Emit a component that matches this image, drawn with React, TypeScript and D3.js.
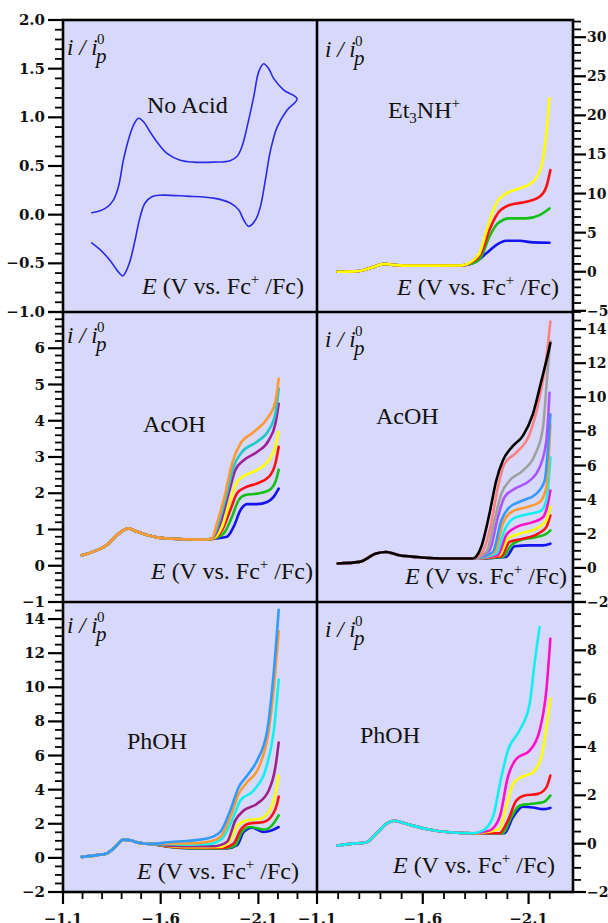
import React from 'react';
import * as d3 from 'd3';

type Pt = [number, number];

// ---------- tick labels ----------
const xMajorTicks = [-1.1, -1.6, -2.1];

// ---------- Panel: No Acid (cyclic voltammogram) ----------
const noAcidCV: Pt[] = [
  [-1.247, 0.02], [-1.29, 0.04], [-1.324, 0.075], [-1.358, 0.15], [-1.384, 0.29], [-1.409, 0.56],
  [-1.435, 0.77], [-1.461, 0.92], [-1.486, 0.99], [-1.512, 0.955], [-1.546, 0.85], [-1.58, 0.75],
  [-1.632, 0.63], [-1.7, 0.56], [-1.768, 0.54], [-1.871, 0.54], [-1.956, 0.555], [-1.991, 0.6],
  [-2.016, 0.7], [-2.042, 0.9], [-2.076, 1.21], [-2.102, 1.47], [-2.127, 1.55], [-2.153, 1.5],
  [-2.178, 1.4], [-2.23, 1.28], [-2.298, 1.19],
  [-2.247, 1.075], [-2.196, 0.9], [-2.162, 0.66], [-2.136, 0.36], [-2.11, 0.08], [-2.085, -0.055],
  [-2.05, -0.12], [-2.025, -0.055], [-1.999, 0.05], [-1.956, 0.12], [-1.871, 0.17], [-1.734, 0.19],
  [-1.597, 0.2], [-1.555, 0.185], [-1.52, 0.12], [-1.495, -0.02], [-1.469, -0.26], [-1.444, -0.47],
  [-1.418, -0.6], [-1.406, -0.63], [-1.384, -0.59], [-1.341, -0.47], [-1.29, -0.36], [-1.247, -0.29],
];

// ---------- Panel: Et3NH+ ----------
const etBase: Pt[] = [
  [-1.197, 0], [-1.25, 0.02], [-1.3, 0.1], [-1.36, 0.55], [-1.418, 1.0], [-1.47, 0.85],
  [-1.55, 0.78], [-1.65, 0.78], [-1.78, 0.8],
];
const etBlue: Pt[] = [[-1.805, 0.86], [-1.852, 1.28], [-1.9, 2.35], [-1.947, 3.4], [-1.994, 3.96], [-2.057, 3.96], [-2.12, 3.75], [-2.199, 3.7]];
const etGreen: Pt[] = [[-1.836, 1.07], [-1.876, 1.92], [-1.915, 4.48], [-1.955, 6.19], [-2.01, 6.83], [-2.089, 6.83], [-2.152, 7.25], [-2.199, 8.1]];
const etRed: Pt[] = [[-1.836, 1.28], [-1.876, 2.35], [-1.915, 5.33], [-1.955, 7.47], [-2.01, 8.53], [-2.089, 8.95], [-2.152, 9.59], [-2.184, 10.87], [-2.203, 13.0]];
const etYellow: Pt[] = [[-1.829, 1.28], [-1.868, 2.35], [-1.907, 5.75], [-1.947, 8.75], [-1.994, 10.0], [-2.057, 10.66], [-2.12, 11.5], [-2.16, 13.43], [-2.184, 17.7], [-2.199, 22.2]];
const etColors = ['#1414f0', '#14c014', '#ff1010', '#ffff00'];

// ---------- Panel: AcOH (left) ----------
const acLBase: Pt[] = [
  [-1.196, 0.29], [-1.255, 0.39], [-1.324, 0.57], [-1.367, 0.8], [-1.409, 0.98], [-1.435, 1.03],
  [-1.461, 0.98], [-1.529, 0.85], [-1.632, 0.75], [-1.803, 0.72], [-1.86, 0.74],
];
const acLBlue: Pt[] = [[-1.939, 0.8], [-1.973, 1.07], [-2.008, 1.53], [-2.042, 1.7], [-2.093, 1.7], [-2.145, 1.76], [-2.178, 1.9], [-2.204, 2.13]];
const acLGreen: Pt[] = [[-1.922, 0.89], [-1.965, 1.35], [-1.999, 1.81], [-2.033, 1.95], [-2.093, 1.99], [-2.153, 2.08], [-2.187, 2.31], [-2.204, 2.65]];
const acLRed: Pt[] = [[-1.914, 0.98], [-1.956, 1.53], [-1.991, 2.0], [-2.033, 2.16], [-2.093, 2.27], [-2.153, 2.45], [-2.187, 2.82], [-2.204, 3.28]];
const acLYellow: Pt[] = [[-1.914, 1.07], [-1.956, 1.81], [-1.991, 2.31], [-2.033, 2.5], [-2.093, 2.64], [-2.153, 2.91], [-2.187, 3.28], [-2.204, 3.69]];
const acLPurple: Pt[] = [[-1.905, 1.17], [-1.948, 2.0], [-1.982, 2.64], [-2.025, 2.91], [-2.093, 3.14], [-2.153, 3.46], [-2.187, 3.92], [-2.204, 4.47]];
const acLCyan: Pt[] = [[-1.896, 1.17], [-1.939, 2.0], [-1.973, 2.73], [-2.016, 3.14], [-2.093, 3.42], [-2.153, 3.74], [-2.187, 4.2], [-2.204, 4.89]];
const acLOrange: Pt[] = [[-1.888, 1.17], [-1.931, 2.0], [-1.965, 2.82], [-2.008, 3.37], [-2.076, 3.69], [-2.145, 4.06], [-2.187, 4.52], [-2.204, 5.16]];
const acLColors = ['#1414f0', '#14c014', '#ff1010', '#ffff00', '#a0209a', '#20c8c8', '#ff9933'];

// ---------- Panel: AcOH (right) ----------
const acRBase: Pt[] = [
  [-1.198, 0.26], [-1.3, 0.35], [-1.379, 0.84], [-1.427, 0.93], [-1.489, 0.74], [-1.569, 0.64],
  [-1.726, 0.55], [-1.836, 0.55],
];
const acRBlue: Pt[] = [[-1.994, 0.64], [-2.034, 1.27], [-2.105, 1.32], [-2.168, 1.32], [-2.203, 1.42]];
const acRGreen: Pt[] = [[-1.978, 0.64], [-2.018, 1.32], [-2.06, 1.62], [-2.12, 1.77], [-2.184, 2.0], [-2.203, 2.2]];
const acRRed: Pt[] = [[-1.971, 0.68], [-2.01, 1.52], [-2.073, 1.71], [-2.144, 2.0], [-2.184, 2.39], [-2.203, 3.07]];
const acRYellow: Pt[] = [[-1.963, 0.74], [-2.002, 1.71], [-2.057, 2.0], [-2.136, 2.3], [-2.184, 2.78], [-2.203, 3.56]];
const acRMagenta: Pt[] = [[-1.955, 0.74], [-1.994, 1.91], [-2.042, 2.39], [-2.12, 2.68], [-2.168, 2.97], [-2.191, 3.75], [-2.203, 4.53]];
const acRCyan: Pt[] = [[-1.947, 0.84], [-1.986, 2.2], [-2.026, 2.88], [-2.105, 3.17], [-2.16, 3.36], [-2.187, 4.14], [-2.203, 6.47]];
const acROrange: Pt[] = [[-1.939, 0.93], [-1.978, 2.59], [-2.018, 3.27], [-2.089, 3.56], [-2.152, 3.85], [-2.184, 4.72], [-2.203, 8.42]];
const acRDodger: Pt[] = [[-1.931, 0.93], [-1.971, 2.78], [-2.01, 3.56], [-2.073, 3.95], [-2.136, 4.34], [-2.176, 5.11], [-2.191, 6.86], [-2.203, 9.0]];
const acRViolet: Pt[] = [[-1.915, 1.03], [-1.955, 2.97], [-1.986, 4.14], [-2.034, 4.63], [-2.105, 5.11], [-2.152, 5.89], [-2.184, 7.45], [-2.199, 10.26]];
const acRGray: Pt[] = [[-1.9, 0.93], [-1.939, 2.78], [-1.971, 4.34], [-2.01, 5.11], [-2.073, 5.7], [-2.128, 6.57], [-2.168, 8.22], [-2.191, 11.72], [-2.203, 13.28]];
const acRSalmon: Pt[] = [[-1.88, 0.9], [-1.923, 2.59], [-1.955, 4.72], [-1.986, 6.09], [-2.042, 6.76], [-2.105, 7.84], [-2.152, 9.97], [-2.184, 12.3], [-2.203, 14.44]];
const acRBlack: Pt[] = [[-1.876, 1.22], [-1.915, 3.17], [-1.947, 5.11], [-1.978, 6.28], [-2.026, 7.15], [-2.073, 7.74], [-2.12, 9.0], [-2.16, 10.94], [-2.191, 12.5], [-2.203, 13.18]];
const acRColors = ['#1414f0', '#14c014', '#ff1010', '#ffff00', '#ff10c8', '#10f0f0', '#ff9a30', '#3399ff', '#aa55ff', '#a0a0a0', '#ff8080', '#000000'];

// ---------- Panel: PhOH (left) ----------
const phLBase: Pt[] = [
  [-1.196, 0.06], [-1.273, 0.16], [-1.324, 0.26], [-1.367, 0.64], [-1.409, 1.07], [-1.444, 1.03],
  [-1.495, 0.87], [-1.55, 0.82],
];
const phLBlue: Pt[] = [[-1.65, 0.64], [-1.75, 0.56], [-1.939, 0.55], [-1.991, 0.74], [-2.025, 1.52], [-2.068, 1.77], [-2.127, 1.52], [-2.17, 1.62], [-2.204, 1.81]];
const phLGreen: Pt[] = [[-1.65, 0.64], [-1.75, 0.57], [-1.922, 0.55], [-1.982, 0.74], [-2.016, 1.52], [-2.059, 1.81], [-2.127, 1.66], [-2.17, 1.91], [-2.204, 2.49]];
const phLRed: Pt[] = [[-1.65, 0.66], [-1.75, 0.6], [-1.914, 0.58], [-1.973, 0.84], [-2.008, 1.62], [-2.05, 2.0], [-2.127, 2.1], [-2.17, 2.49], [-2.196, 3.17], [-2.204, 3.6]];
const phLYellow: Pt[] = [[-1.65, 0.68], [-1.75, 0.62], [-1.905, 0.64], [-1.956, 1.03], [-1.994, 1.91], [-2.042, 2.2], [-2.11, 2.3], [-2.162, 2.88], [-2.187, 3.75], [-2.204, 4.82]];
const phLPurple: Pt[] = [[-1.65, 0.72], [-1.75, 0.68], [-1.871, 0.68], [-1.939, 0.93], [-1.982, 2.2], [-2.025, 2.78], [-2.093, 3.17], [-2.153, 3.95], [-2.187, 5.31], [-2.204, 6.76]];
const phLCyan: Pt[] = [[-1.65, 0.8], [-1.75, 0.78], [-1.837, 0.8], [-1.914, 1.13], [-1.965, 2.2], [-2.008, 3.36], [-2.076, 3.95], [-2.145, 5.5], [-2.179, 7.45], [-2.204, 10.46]];
const phLOrange: Pt[] = [[-1.65, 0.85], [-1.734, 0.84], [-1.837, 0.93], [-1.905, 1.22], [-1.956, 2.39], [-1.999, 3.75], [-2.042, 4.43], [-2.102, 5.31], [-2.153, 7.45], [-2.187, 10.94], [-2.204, 13.28]];
const phLDodger: Pt[] = [[-1.65, 0.93], [-1.734, 0.99], [-1.837, 1.13], [-1.905, 1.52], [-1.956, 2.78], [-1.999, 4.14], [-2.042, 4.82], [-2.093, 5.7], [-2.145, 7.45], [-2.179, 10.94], [-2.204, 14.54]];
const phLColors = ['#1414f0', '#14c014', '#ff1010', '#ffff00', '#a0208a', '#10f0f0', '#ff9a30', '#3399ff'];

// ---------- Panel: PhOH (right) ----------
const phRBase: Pt[] = [
  [-1.197, -0.08], [-1.268, 0], [-1.332, 0.05], [-1.379, 0.4], [-1.427, 0.82], [-1.466, 0.95],
  [-1.521, 0.82], [-1.616, 0.61], [-1.726, 0.47], [-1.836, 0.43],
];
const phRBlue: Pt[] = [[-1.986, 0.43], [-2.026, 1.09], [-2.073, 1.53], [-2.12, 1.5], [-2.168, 1.43], [-2.203, 1.48]];
const phRGreen: Pt[] = [[-1.978, 0.43], [-2.018, 1.09], [-2.057, 1.57], [-2.105, 1.64], [-2.168, 1.71], [-2.203, 1.99]];
const phRRed: Pt[] = [[-1.963, 0.43], [-2.002, 0.95], [-2.042, 1.78], [-2.081, 1.99], [-2.144, 2.06], [-2.184, 2.33], [-2.203, 2.82]];
const phRYellow: Pt[] = [[-1.963, 0.61], [-1.994, 1.5], [-2.026, 2.47], [-2.065, 2.75], [-2.12, 2.95], [-2.16, 3.57], [-2.187, 4.96], [-2.203, 6.0]];
const phRMagenta: Pt[] = [[-1.915, 0.54], [-1.963, 1.09], [-2.002, 2.75], [-2.042, 3.51], [-2.105, 3.85], [-2.152, 4.68], [-2.184, 6.34], [-2.203, 8.48]];
const phRCyan: Pt[] = [[-1.884, 0.54], [-1.931, 1.09], [-1.971, 2.75], [-2.002, 3.85], [-2.057, 4.68], [-2.105, 5.78], [-2.128, 7.44], [-2.152, 8.96]];
const phRColors = ['#1414f0', '#14c014', '#ff1010', '#ffff00', '#ff10c8', '#10f0f0'];

// ---------- layout ----------
const W = 608, H = 923;
const colX: [number, number][] = [[63, 317], [317, 573]];
const rowY: [number, number][] = [[20, 312], [312, 602], [602, 892]];
const xDomains: [number, number][] = [[-1.1, -2.4], [-1.1, -2.31]];
const BG = '#d8d8fa';
const SERIF = '"Liberation Serif", "Times New Roman", serif';
const TICKFONT = '"DejaVu Serif", serif';

type Seg = { t: string; sub?: boolean; sup?: boolean };
type PanelCfg = {
  id: string; col: number; row: number; yDomain: [number, number]; major: number; minor: number;
  fmt: string; title: Seg[]; titlePos: [number, number]; ylab: [number, number]; eLab: [number, number];
  cv?: boolean; lineW: number; series: { pts: Pt[]; color: string }[];
};

const withBase = (base: Pt[], list: Pt[][], colors: string[]) =>
  list.map((s, i) => ({ pts: base.concat(s), color: colors[i] }));

const panels: PanelCfg[] = [
  { id: 'a', col: 0, row: 0, yDomain: [-1, 2], major: 0.5, minor: 0.1, fmt: '.1f',
    title: [{ t: 'No Acid' }], titlePos: [147, 113], ylab: [67, 55], eLab: [304, 294], cv: true, lineW: 1.6,
    series: [{ pts: noAcidCV, color: '#2a2ae8' }] },
  { id: 'b', col: 1, row: 0, yDomain: [-5.15, 32.2], major: 5, minor: 1, fmt: 'd',
    title: [{ t: 'Et' }, { t: '3', sub: true }, { t: 'NH' }, { t: '+', sup: true }], titlePos: [388, 118], ylab: [325, 57], eLab: [559, 295], lineW: 2.6,
    series: withBase(etBase, [etBlue, etGreen, etRed, etYellow], etColors) },
  { id: 'c', col: 0, row: 1, yDomain: [-1, 7], major: 1, minor: 0.2, fmt: 'd',
    title: [{ t: 'AcOH' }], titlePos: [143, 432], ylab: [67, 343], eLab: [313, 579], lineW: 2.6,
    series: withBase(acLBase, [acLBlue, acLGreen, acLRed, acLYellow, acLPurple, acLCyan, acLOrange], acLColors) },
  { id: 'd', col: 1, row: 1, yDomain: [-2, 15], major: 2, minor: 0.5, fmt: 'd',
    title: [{ t: 'AcOH' }], titlePos: [376, 424], ylab: [325, 347], eLab: [567, 584], lineW: 2.6,
    series: withBase(acRBase, [acRBlue, acRGreen, acRRed, acRYellow, acRMagenta, acRCyan, acROrange, acRDodger, acRViolet, acRGray, acRSalmon, acRBlack], acRColors) },
  { id: 'e', col: 0, row: 2, yDomain: [-2, 15], major: 2, minor: 0.5, fmt: 'd',
    title: [{ t: 'PhOH' }], titlePos: [127, 749], ylab: [67, 633], eLab: [299, 879], lineW: 2.6,
    series: withBase(phLBase, [phLBlue, phLGreen, phLRed, phLYellow, phLPurple, phLCyan, phLOrange, phLDodger], phLColors) },
  { id: 'f', col: 1, row: 2, yDomain: [-2, 10], major: 2, minor: 0.5, fmt: 'd',
    title: [{ t: 'PhOH' }], titlePos: [360, 743], ylab: [325, 637], eLab: [555, 873], lineW: 2.6,
    series: withBase(phRBase, [phRBlue, phRGreen, phRRed, phRYellow, phRMagenta, phRCyan], phRColors) },
];

function stepVals(min: number, max: number, step: number): number[] {
  const lo = Math.min(min, max), hi = Math.max(min, max);
  const k0 = Math.ceil(lo / step - 1e-6), k1 = Math.floor(hi / step + 1e-6);
  return d3.range(k0, k1 + 1).map(k => +(k * step).toFixed(6));
}

function Panel({ p }: { p: PanelCfg }) {
  const [x0, x1] = colX[p.col];
  const [y0, y1] = rowY[p.row];
  const x = d3.scaleLinear().domain(xDomains[p.col]).range([x0, x1]);
  const y = d3.scaleLinear().domain(p.yDomain).range([y1, y0]);
  const line = d3.line<Pt>().x(d => x(d[0])).y(d => y(d[1]))
    .curve(p.cv ? d3.curveCatmullRom.alpha(0.5) : d3.curveMonotoneX);
  return (
    <g>
      <clipPath id={'clip' + p.id}><rect x={x0} y={y0} width={x1 - x0} height={y1 - y0} /></clipPath>
      <g clipPath={`url(#clip${p.id})`}>
        {p.series.map((s, i) => (
          <path key={i} d={line(s.pts) || ''} fill="none" stroke={s.color} strokeWidth={p.lineW}
            strokeLinejoin="round" strokeLinecap="round" />
        ))}
      </g>
    </g>
  );
}

function PanelText({ p }: { p: PanelCfg }) {
  const [tx, ty] = p.titlePos;
  const [lx, ly] = p.ylab;
  const [ex, ey] = p.eLab;
  return (
    <g fontFamily={SERIF} fill="#111">
      <text x={tx} y={ty} fontSize={24}>
        {p.title.map((s, i) => s.sub
          ? <tspan key={i} fontSize={15} dy={5}>{s.t}</tspan>
          : s.sup
            ? <tspan key={i} fontSize={15} dy={-10}>{s.t}</tspan>
            : <tspan key={i} dy={i > 0 && p.title[i - 1].sub ? -5 : 0}>{s.t}</tspan>)}
      </text>
      <text x={lx} y={ly} fontSize={23} fontStyle="italic">i / i</text>
      <text x={lx + 30} y={ly - 11} fontSize={15}>0</text>
      <text x={lx + 29} y={ly + 8} fontSize={21} fontStyle="italic">p</text>
      <text x={ex} y={ey} fontSize={24} textAnchor="end">
        <tspan fontStyle="italic">E</tspan>
        <tspan>{' (V vs. Fc'}</tspan>
        <tspan fontSize={15} dy={-10}>+</tspan>
        <tspan dy={10}>{' /Fc)'}</tspan>
      </text>
    </g>
  );
}

function YAxis({ p }: { p: PanelCfg }) {
  const [y0, y1] = rowY[p.row];
  const y = d3.scaleLinear().domain(p.yDomain).range([y1, y0]);
  const left = p.col === 0;
  const ax = left ? colX[0][0] : colX[1][1];
  const dir = left ? -1 : 1;
  const majors = stepVals(p.yDomain[0], p.yDomain[1], p.major);
  const minors = stepVals(p.yDomain[0], p.yDomain[1], p.minor)
    .filter(v => !majors.some(m => Math.abs(m - v) < 1e-6));
  const fmt = d3.format(p.fmt);
  const labeled = majors.filter(v => !(p.row > 0 && Math.abs(y(v) - y0) < 1.5));
  return (
    <g>
      {minors.map(v => (
        <line key={'n' + v} x1={ax} x2={ax + dir * 8} y1={y(v)} y2={y(v)} stroke="#000" strokeWidth={1.8} />
      ))}
      {majors.map(v => (
        <line key={'m' + v} x1={ax} x2={ax + dir * (left ? 15 : 13)} y1={y(v)} y2={y(v)} stroke="#000" strokeWidth={2.2} />
      ))}
      {labeled.map(v => (
        <text key={'t' + v} x={left ? ax - 18 : ax + 14} y={y(v) + 5} fontSize={left ? 15 : 14}
          fontWeight="bold" fontFamily={TICKFONT} textAnchor={left ? 'end' : 'start'} fill="#111">
          {fmt(v)}
        </text>
      ))}
    </g>
  );
}

function XAxis({ col }: { col: number }) {
  const x = d3.scaleLinear().domain(xDomains[col]).range(colX[col]);
  const yb = rowY[2][1];
  const minors = stepVals(xDomains[col][0], xDomains[col][1], 0.1)
    .filter(v => !xMajorTicks.some(m => Math.abs(m - v) < 1e-6))
    .filter(v => Math.abs(x(v) - colX[col][1]) > 3);
  return (
    <g>
      {minors.map(v => (
        <line key={'n' + v} x1={x(v)} x2={x(v)} y1={yb} y2={yb + 7} stroke="#000" strokeWidth={1.8} />
      ))}
      {xMajorTicks.map(v => (
        <line key={'m' + v} x1={x(v)} x2={x(v)} y1={yb} y2={yb + 12} stroke="#000" strokeWidth={2.2} />
      ))}
      {xMajorTicks.map(v => (
        <text key={'t' + v} x={x(v)} y={924} fontSize={15} fontWeight="bold" fontFamily={TICKFONT}
          textAnchor="middle" fill="#111">{d3.format('.1f')(v)}</text>
      ))}
    </g>
  );
}

export default function App() {
  const L = colX[0][0], M = colX[1][0], R = colX[1][1];
  const T = rowY[0][0], B = rowY[2][1];
  return (
    <svg width={W} height={H} viewBox={`0 0 ${W} ${H}`}
      style={{ position: 'absolute', left: 0, top: 0, background: '#fff' }}>
      <rect x={L} y={T} width={R - L} height={B - T} fill={BG} />
      {panels.map(p => <Panel key={p.id} p={p} />)}
      {panels.map(p => <PanelText key={'t' + p.id} p={p} />)}
      <g stroke="#000" strokeWidth={2.6} fill="none">
        <rect x={L} y={T} width={R - L} height={B - T} />
        <line x1={M} x2={M} y1={T} y2={B} />
        <line x1={L} x2={R} y1={rowY[1][0]} y2={rowY[1][0]} />
        <line x1={L} x2={R} y1={rowY[2][0]} y2={rowY[2][0]} />
      </g>
      {panels.map(p => <YAxis key={'y' + p.id} p={p} />)}
      <XAxis col={0} />
      <XAxis col={1} />
    </svg>
  );
}
